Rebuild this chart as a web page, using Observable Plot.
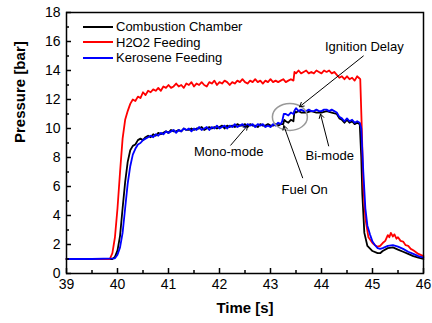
<!DOCTYPE html>
<html><head><meta charset="utf-8">
<script src="https://cdn.jsdelivr.net/npm/d3@7"></script>
<script src="https://cdn.jsdelivr.net/npm/@observablehq/plot@0.6"></script>
<style>
body{margin:0;background:#fff;font-family:"Liberation Sans",Arial,sans-serif;}
#wrap{position:relative;width:432px;height:323px;}
#legend{position:absolute;left:83px;top:19px;font-size:13px;line-height:15.5px;color:#000;}
#legend div{display:flex;align-items:center;height:15.5px;}
#legend svg{margin-right:3px;}
</style></head><body>
<div id="wrap"><div id="legend"></div></div>
<script>
const seriesNames = ["Combustion Chamber", "H2O2 Feeding", "Kerosene Feeding"];
const seriesColors = ["#000000", "#ff0000", "#0000ff"];

const chamber = [[39,1.0],[39.5,1.0],[39.9,1.0],[39.95,1.15],[40.0,1.6],[40.05,2.6],[40.1,4.5],[40.15,6.3],[40.2,7.7],[40.25,8.5],[40.3,8.8],[40.35,8.9],[40.4,9.2],[40.45,9.3],[40.5,9.2],[40.55,9.4],[40.6,9.5],[40.65,9.4],[40.7,9.6],[40.75,9.5],[40.8,9.7],[40.85,9.6],[40.9,9.7],[40.95,9.8],[41.0,9.7],[41.05,9.9],[41.1,9.8],[41.15,9.8],[41.2,9.9],[41.25,9.8],[41.3,10.0],[41.35,9.9],[41.4,9.9],[41.45,10.0],[41.5,9.9],[41.55,10.0],[41.6,10.0],[41.65,10.1],[41.7,9.9],[41.75,10.0],[41.8,10.1],[41.85,10.0],[41.9,10.1],[41.95,10.0],[42.0,10.1],[42.05,10.2],[42.1,10.0],[42.15,10.2],[42.2,10.1],[42.25,10.2],[42.3,10.1],[42.35,10.3],[42.4,10.2],[42.45,10.2],[42.5,10.3],[42.55,10.1],[42.6,10.3],[42.65,10.2],[42.7,10.2],[42.75,10.1],[42.8,10.3],[42.85,10.2],[42.9,10.2],[42.95,10.3],[43.0,10.2],[43.05,10.2],[43.1,10.3],[43.15,10.2],[43.2,10.3],[43.25,10.3],[43.27,10.6],[43.3,10.5],[43.35,10.4],[43.4,10.6],[43.45,10.5],[43.47,11.2],[43.5,11.1],[43.55,11.2],[43.6,11.1],[43.7,11.1],[43.8,11.2],[43.9,11.1],[44.0,11.1],[44.1,11.2],[44.2,11.1],[44.3,11.0],[44.35,10.7],[44.4,10.6],[44.45,10.4],[44.5,10.6],[44.55,10.4],[44.6,10.5],[44.65,10.3],[44.7,10.4],[44.75,10.3],[44.78,8.0],[44.8,5.5],[44.84,2.8],[44.9,1.9],[45.0,1.55],[45.1,1.4],[45.15,1.4],[45.2,1.55],[45.3,1.75],[45.4,1.8],[45.5,1.65],[45.6,1.5],[45.7,1.35],[45.8,1.2],[45.9,1.1],[46.0,1.0]];

const h2o2 = [[39,1.0],[39.5,1.0],[39.85,1.0],[39.9,1.4],[39.95,2.5],[40.0,4.5],[40.05,7.0],[40.1,9.3],[40.15,10.6],[40.2,11.2],[40.25,11.7],[40.3,12.0],[40.35,11.9],[40.4,12.2],[40.45,12.1],[40.5,12.5],[40.55,12.3],[40.6,12.6],[40.65,12.5],[40.7,12.7],[40.75,12.6],[40.8,12.8],[40.85,12.6],[40.9,12.9],[40.95,12.8],[41.0,13.0],[41.05,12.8],[41.1,12.9],[41.15,13.1],[41.2,12.9],[41.25,13.0],[41.3,12.8],[41.35,13.1],[41.4,13.0],[41.45,13.2],[41.5,12.9],[41.55,13.1],[41.6,13.0],[41.65,13.2],[41.7,13.0],[41.75,12.9],[41.8,13.2],[41.85,13.1],[41.9,13.3],[41.95,13.0],[42.0,13.2],[42.05,13.1],[42.1,13.3],[42.15,13.2],[42.2,13.0],[42.25,13.2],[42.3,13.1],[42.35,13.3],[42.4,13.2],[42.45,13.4],[42.5,13.2],[42.55,13.1],[42.6,13.3],[42.65,13.2],[42.7,13.4],[42.75,13.2],[42.8,13.3],[42.85,13.1],[42.9,13.3],[42.95,13.2],[43.0,13.4],[43.05,13.2],[43.1,13.3],[43.15,13.2],[43.2,13.3],[43.25,13.4],[43.3,13.2],[43.35,13.3],[43.4,13.4],[43.45,13.3],[43.47,13.9],[43.5,13.8],[43.55,14.0],[43.6,13.8],[43.65,13.9],[43.7,14.0],[43.75,13.8],[43.8,13.9],[43.85,13.8],[43.9,14.0],[43.95,13.9],[44.0,13.8],[44.05,14.0],[44.1,13.9],[44.15,14.0],[44.2,13.8],[44.25,13.9],[44.3,13.7],[44.35,13.5],[44.4,13.6],[44.45,13.4],[44.5,13.6],[44.55,13.4],[44.6,13.5],[44.65,13.3],[44.7,13.6],[44.73,13.5],[44.76,13.4],[44.79,10.0],[44.82,6.0],[44.86,3.8],[44.92,2.5],[45.0,2.1],[45.05,1.95],[45.1,1.85],[45.15,1.9],[45.2,2.1],[45.25,2.25],[45.3,2.65],[45.33,2.5],[45.36,2.8],[45.4,2.55],[45.43,2.7],[45.47,2.4],[45.5,2.5],[45.55,2.25],[45.6,2.2],[45.65,1.95],[45.7,1.9],[45.75,1.7],[45.8,1.6],[45.9,1.35],[46.0,1.2]];

const kerosene = [[39,1.0],[39.5,1.0],[39.95,1.05],[40.0,1.3],[40.05,1.8],[40.1,2.8],[40.15,4.5],[40.2,6.2],[40.25,7.4],[40.3,8.2],[40.35,8.6],[40.4,8.9],[40.45,9.0],[40.5,9.2],[40.55,9.3],[40.6,9.4],[40.65,9.5],[40.7,9.4],[40.75,9.6],[40.8,9.5],[40.85,9.7],[40.9,9.6],[40.95,9.8],[41.0,9.7],[41.05,9.8],[41.1,9.9],[41.15,9.7],[41.2,9.9],[41.25,9.8],[41.3,10.0],[41.35,9.9],[41.4,10.0],[41.45,9.8],[41.5,10.0],[41.55,9.9],[41.6,10.1],[41.65,9.9],[41.7,10.0],[41.75,10.1],[41.8,9.9],[41.85,10.1],[41.9,10.0],[41.95,10.2],[42.0,10.0],[42.05,10.1],[42.1,10.2],[42.15,10.0],[42.2,10.2],[42.25,10.1],[42.3,10.3],[42.35,10.1],[42.4,10.2],[42.45,10.3],[42.5,10.1],[42.55,10.3],[42.6,10.2],[42.65,10.3],[42.7,10.1],[42.75,10.3],[42.8,10.2],[42.85,10.3],[42.9,10.1],[42.95,10.2],[43.0,10.1],[43.05,10.3],[43.1,10.2],[43.15,10.4],[43.2,10.3],[43.23,10.5],[43.26,11.0],[43.3,11.0],[43.35,10.9],[43.4,11.1],[43.45,11.0],[43.48,11.3],[43.5,11.4],[43.55,11.2],[43.6,11.3],[43.65,11.2],[43.7,11.2],[43.75,11.3],[43.8,11.2],[43.85,11.2],[43.9,11.3],[43.95,11.2],[44.0,11.2],[44.05,11.3],[44.1,11.3],[44.15,11.2],[44.2,11.3],[44.25,11.2],[44.3,11.1],[44.35,10.8],[44.4,10.7],[44.45,10.5],[44.5,10.7],[44.55,10.5],[44.6,10.6],[44.65,10.4],[44.7,10.5],[44.75,10.4],[44.78,10.0],[44.82,7.0],[44.86,4.5],[44.9,3.3],[44.95,2.7],[45.0,2.2],[45.05,1.95],[45.1,1.75],[45.15,1.7],[45.2,1.75],[45.3,1.9],[45.4,1.95],[45.5,1.85],[45.6,1.7],[45.7,1.5],[45.8,1.35],[45.9,1.2],[46.0,1.1]];

const xMajorTicks = [39, 40, 41, 42, 43, 44, 45, 46];
const xMinorTicks = [39.5, 40.5, 41.5, 42.5, 43.5, 44.5, 45.5];
const yMajorTicks = [0, 2, 4, 6, 8, 10, 12, 14, 16, 18];
const yMinorTicks = [1, 3, 5, 7, 9, 11, 13, 15, 17];

const noteLabels = [
  {text: "Ignition Delay", t: 44.84, p: 15.6},
  {text: "Mono-mode", t: 42.18, p: 8.4},
  {text: "Bi-mode", t: 44.16, p: 8.1},
  {text: "Fuel On", t: 43.67, p: 5.75}
];
const noteArrows = [
  {t1: 44.82, p1: 15.0, t2: 43.57, p2: 11.5},
  {t1: 42.22, p1: 8.85, t2: 42.55, p2: 10.2},
  {t1: 44.14, p1: 8.8, t2: 43.98, p2: 11.0},
  {t1: 43.63, p1: 6.6, t2: 43.26, p2: 10.2}
];
const circleNote = {t: 43.39, p: 10.76, rt: 0.343, rp: 0.93};

const allSeries = [chamber, h2o2, kerosene];
const table = allSeries.flatMap((s, i) => s.map(([t, p]) => ({t, p, series: seriesNames[i]})));

const W = 432, H = 323, mL = 66, mR = 9, mT = 12, mB = 50;
const pw = W - mL - mR, ph = H - mT - mB;

const ellipseMark = (index, scales) => {
  const cx = scales.x(circleNote.t), cy = scales.y(circleNote.p);
  const rx = Math.abs(scales.x(circleNote.t + circleNote.rt) - cx);
  const ry = Math.abs(scales.y(circleNote.p + circleNote.rp) - cy);
  const el = document.createElementNS("http://www.w3.org/2000/svg", "ellipse");
  el.setAttribute("cx", cx); el.setAttribute("cy", cy);
  el.setAttribute("rx", rx); el.setAttribute("ry", ry);
  el.setAttribute("fill", "none"); el.setAttribute("stroke", "#999");
  el.setAttribute("stroke-width", "1.5");
  return el;
};

const chart = Plot.plot({
  width: W, height: H,
  marginLeft: mL, marginRight: mR, marginTop: mT, marginBottom: mB,
  style: {fontFamily: '"Liberation Sans", Arial, sans-serif', background: "#fff"},
  x: {domain: [39, 46]},
  y: {domain: [0, 18]},
  color: {domain: seriesNames, range: seriesColors},
  marks: [
    Plot.line(table, {x: "t", y: "p", z: "series", stroke: "series", strokeWidth: 1.8}),
    ellipseMark,
    Plot.arrow(noteArrows, {x1: "t1", y1: "p1", x2: "t2", y2: "p2", stroke: "#000", strokeWidth: 1, headLength: 7, bend: false}),
    Plot.text(noteLabels, {x: "t", y: "p", text: "text", fontSize: 13, fill: "#000"}),
    Plot.tickX(xMajorTicks, {x: d => d, insetTop: ph - 5, strokeWidth: 1.5}),
    Plot.tickX(xMinorTicks, {x: d => d, insetTop: ph - 3, strokeWidth: 1.5}),
    Plot.tickY(yMajorTicks, {y: d => d, insetRight: pw - 5, strokeWidth: 1.5}),
    Plot.tickY(yMinorTicks, {y: d => d, insetRight: pw - 3, strokeWidth: 1.5}),
    Plot.axisX({ticks: xMajorTicks, tickSize: 0, tickPadding: 6, fontSize: 14, label: null, tickFormat: d => String(d)}),
    Plot.axisY({ticks: yMajorTicks, tickSize: 0, tickPadding: 6, fontSize: 14, label: null}),
    Plot.text(["Time [s]"], {frameAnchor: "bottom", dy: 39, fontSize: 15, fontWeight: "bold"}),
    Plot.text(["Pressure [bar]"], {frameAnchor: "left", dx: -46, rotate: -90, fontSize: 15, fontWeight: "bold"}),
    Plot.frame({stroke: "#000", strokeWidth: 1.5})
  ]
});
document.getElementById("wrap").prepend(chart);

const legend = document.getElementById("legend");
seriesNames.forEach((name, i) => {
  const row = document.createElement("div");
  row.innerHTML = `<svg width="30" height="4"><line x1="0" y1="2" x2="30" y2="2" stroke="${seriesColors[i]}" stroke-width="2"/></svg><span>${name}</span>`;
  legend.appendChild(row);
});
</script>
</body></html>
